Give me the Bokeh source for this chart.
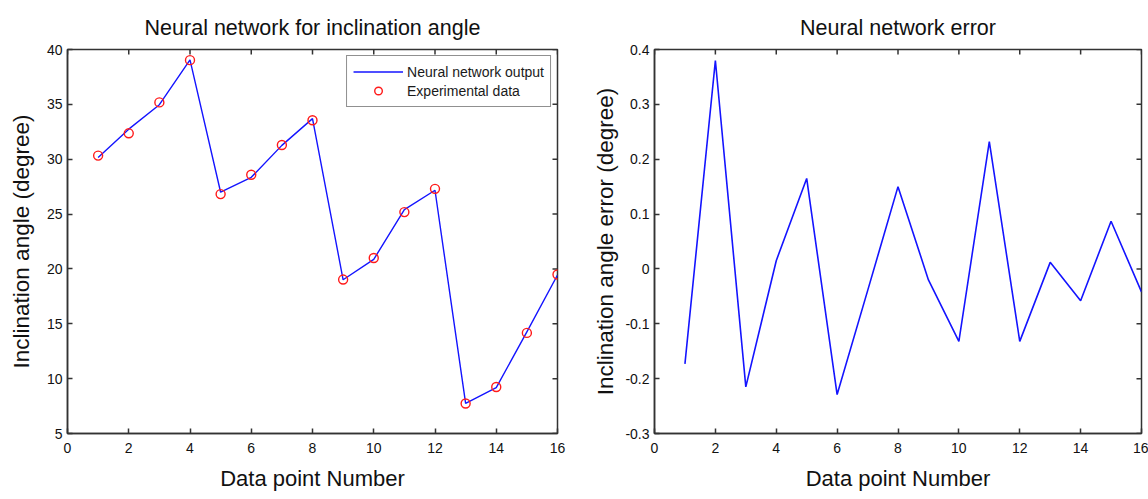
import math
from bokeh.plotting import figure
from bokeh.layouts import row
from bokeh.models import (Range1d, FixedTicker, CustomJSTickFormatter,
                          Legend, LegendItem)
from bokeh.embed import file_html
from bokeh.resources import INLINE

# ---- data ----
data_point = [1, 2, 3, 4, 5, 6, 7, 8, 9, 10, 11, 12, 13, 14, 15, 16]
experimental = [30.33, 32.36, 35.18, 39.03, 26.82, 28.58, 31.30, 33.55,
                19.03, 21.00, 25.18, 27.30, 7.73, 9.24, 14.17, 19.49]
network_output = [30.16, 32.74, 34.97, 39.05, 26.99, 28.35, 31.26, 33.70,
                  19.01, 20.87, 25.41, 27.17, 7.74, 9.18, 14.26, 19.45]
error = [-0.173, 0.380, -0.215, 0.015, 0.165, -0.229, -0.040, 0.150,
         -0.020, -0.132, 0.232, -0.132, 0.012, -0.058, 0.087, -0.042]

x_ticks = [0, 2, 4, 6, 8, 10, 12, 14, 16]
y1_ticks = [5, 10, 15, 20, 25, 30, 35, 40]
y2_ticks = [-0.3, -0.2, -0.1, 0, 0.1, 0.2, 0.3, 0.4]

FONT = "Liberation Sans"
FRAME = "#333333"
BLUE = "#1414ff"


def style(p, xt, yt, fmt=None):
    p.outline_line_color = FRAME
    p.outline_line_width = 1.5
    p.xgrid.visible = False
    p.ygrid.visible = False
    p.title.text_font = FONT
    p.title.text_font_size = "21.5px"
    p.title.text_font_style = "normal"
    p.title.text_color = "#111111"
    p.title.align = "center"
    p.title.standoff = 19
    for ax in list(p.xaxis) + list(p.yaxis):
        ax.axis_line_color = FRAME
        ax.axis_line_width = 1.5
        ax.major_tick_in = 5
        ax.major_tick_out = 0
        ax.major_tick_line_color = FRAME
        ax.major_tick_line_width = 1.5
        ax.minor_tick_line_color = None
        ax.major_label_text_font = FONT
        ax.major_label_text_font_size = "14px"
        ax.major_label_text_color = "#111111"
        ax.axis_label_text_font = FONT
        ax.axis_label_text_font_style = "normal"
        ax.axis_label_text_color = "#111111"
    p.xaxis.ticker = FixedTicker(ticks=xt)
    p.yaxis.ticker = FixedTicker(ticks=yt)
    p.xaxis.major_label_standoff = 9
    p.yaxis.major_label_standoff = 5
    p.xaxis.axis_label_text_font_size = "22px"
    p.yaxis.axis_label_text_font_size = "22.5px"
    p.xaxis.axis_label_standoff = 10
    if fmt is not None:
        p.yaxis.formatter = fmt
    # mirrored inward tick marks on the top and right edges of the frame
    x_end = p.x_range.end
    y_end = p.y_range.end
    p.scatter(xt, [y_end] * len(xt), marker="dash", angle=math.pi / 2, size=10,
              line_color=FRAME, line_width=1.5)
    p.scatter([x_end] * len(yt), yt, marker="dash", size=10,
              line_color=FRAME, line_width=1.5)


# ---- left plot ----
p1 = figure(width=590, height=499, x_range=Range1d(0, 16), y_range=Range1d(5, 40),
            title="Neural network for inclination angle",
            output_backend="svg", toolbar_location=None,
            min_border_left=67, min_border_right=33,
            min_border_top=48, min_border_bottom=66)
style(p1, x_ticks, y1_ticks)
p1.title.offset = -9
p1.xaxis.axis_label = "Data point Number"
p1.yaxis.axis_label = "Inclination angle (degree)"
p1.yaxis.axis_label_standoff = 10

r_line = p1.line(data_point, network_output, line_color=BLUE, line_width=1.4)
r_pts = p1.scatter(data_point, experimental, marker="circle", size=9,
                   fill_color=None, line_color="#ff1a1a", line_width=1.4)

legend = Legend(items=[LegendItem(label="Neural network output", renderers=[r_line]),
                       LegendItem(label="Experimental data", renderers=[r_pts])],
                location="top_right")
legend.margin = 6
legend.padding = 6
legend.spacing = 0
legend.glyph_width = 50
legend.glyph_height = 19
legend.label_height = 19
legend.label_standoff = 4
legend.label_text_font = FONT
legend.label_text_font_size = "14px"
legend.label_text_color = "#1a1a1a"
legend.border_line_color = "#222222"
legend.border_line_width = 1.2
legend.background_fill_color = "white"
legend.background_fill_alpha = 1.0
p1.add_layout(legend)

# ---- right plot ----
fmt = CustomJSTickFormatter(code="return String(Number(tick.toFixed(1)));")
p2 = figure(width=558, height=499, x_range=Range1d(0, 16), y_range=Range1d(-0.3, 0.4),
            title="Neural network error",
            output_backend="svg", toolbar_location=None,
            min_border_left=60, min_border_right=7,
            min_border_top=49, min_border_bottom=63)
style(p2, x_ticks, y2_ticks, fmt)
p2.title.offset = -21
p2.xaxis.axis_label = "Data point Number"
p2.yaxis.axis_label = "Inclination angle error (degree)"
p2.yaxis.axis_label_standoff = 4
p2.line(data_point, error, line_color=BLUE, line_width=1.6)

layout = row(p1, p2)
open("out.html", "w").write(file_html(layout, INLINE))
